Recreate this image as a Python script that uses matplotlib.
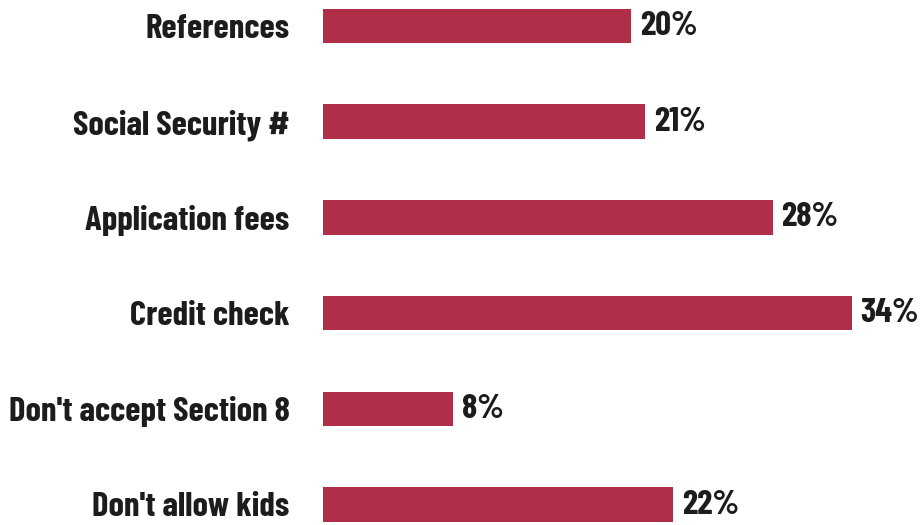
import matplotlib.pyplot as plt

categories = [
    "References",
    "Social Security #",
    "Application fees",
    "Credit check",
    "Don't accept Section 8",
    "Don't allow kids",
]
# bar lengths as drawn in the picture (percent)
bar_values = [19.9, 20.8, 29.0, 34.1, 8.4, 22.6]
pct_labels = ["20%", "21%", "28%", "34%", "8%", "22%"]

BAR_COLOR = "#B02F48"
TEXT_COLOR = "#1c1c1c"

plt.rcParams["font.family"] = ["Barlow Condensed", "DejaVu Sans"]


def main() -> None:
    fig = plt.figure(figsize=(9.24, 5.25), dpi=100)
    ax = fig.add_axes([323 / 924, 0, 601 / 924, 1])

    ypos = list(range(len(categories)))
    ax.barh(ypos, bar_values, height=0.36, color=BAR_COLOR)

    for y, value, label in zip(ypos, bar_values, pct_labels):
        ax.annotate(
            label,
            (value, y),
            xytext=(6, 0),
            textcoords="offset points",
            ha="left",
            va="center",
            fontsize=25,
            fontweight="bold",
            color=TEXT_COLOR,
        )

    ax.set_xlim(0, 601 / 15.5)
    ax.set_ylim(5 + 20.5 / 95.7, -26 / 95.7)
    ax.set_yticks(ypos, categories, fontsize=25, fontweight="bold", color=TEXT_COLOR)
    ax.tick_params(axis="y", length=0, pad=24)
    ax.set_xticks([])
    for spine in ax.spines.values():
        spine.set_visible(False)

    fig.savefig("out.png", dpi=100)


main() if __name__ == "__main__" else None
